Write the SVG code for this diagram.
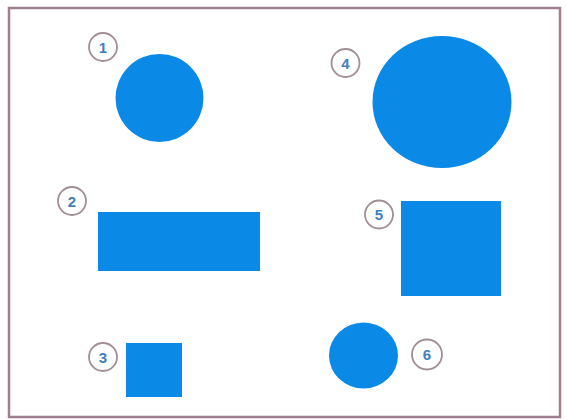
<svg xmlns="http://www.w3.org/2000/svg" width="566" height="419" viewBox="0 0 566 419">
<style>
.shape{fill:#0a8ae6}
.badge circle{fill:#fff;stroke:#a38d96;stroke-width:1.8}
.badge text{font-family:"Liberation Sans",Arial,sans-serif;font-size:15px;font-weight:bold;fill:#3f7fbf;text-anchor:middle;dominant-baseline:central}
</style>
<rect x="0" y="0" width="566" height="419" fill="#fff"/>
<rect x="9" y="8" width="551" height="409" fill="#fff" stroke="#a07f90" stroke-width="2.5"/>
<g id="connectors"/>
<g id="node1">
<circle class="shape" cx="159.5" cy="98" r="44"/>
<g class="badge"><circle cx="103" cy="47" r="14"/><text x="103" y="47">1</text></g>
</g>
<g id="node2">
<rect class="shape" x="98" y="212" width="162" height="59"/>
<g class="badge"><circle cx="72" cy="201" r="14"/><text x="72" y="201">2</text></g>
</g>
<g id="node3">
<rect class="shape" x="126" y="343" width="56" height="54"/>
<g class="badge"><circle cx="103" cy="357" r="14"/><text x="103" y="357">3</text></g>
</g>
<g id="node4">
<ellipse class="shape" cx="442" cy="102" rx="69.5" ry="66"/>
<g class="badge"><circle cx="345.5" cy="63" r="14"/><text x="345.5" y="63">4</text></g>
</g>
<g id="node5">
<rect class="shape" x="401" y="201" width="100" height="95"/>
<g class="badge"><circle cx="379" cy="214.5" r="14"/><text x="379" y="214.5">5</text></g>
</g>
<g id="node6">
<ellipse class="shape" cx="363.5" cy="355.5" rx="34.5" ry="33"/>
<g class="badge"><circle cx="427" cy="354.5" r="15"/><text x="427" y="354.5">6</text></g>
</g>
</svg>
